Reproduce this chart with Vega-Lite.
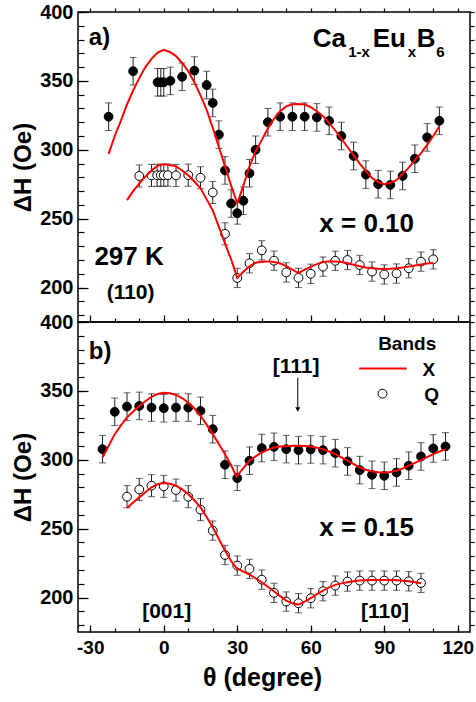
{
"$schema": "https://vega.github.io/schema/vega-lite/v6.json",
"padding": {"left": 10, "top": 1, "right": 2, "bottom": 5},
"bounds": "flush",
"spacing": 0,
"config": {
  "font": "Liberation Sans",
  "view": {"stroke": "black", "strokeWidth": 1.5},
  "axis": {"grid": false, "domain": false, "labelFont": "Liberation Sans", "labelFontWeight": "bold", "labelColor": "black", "tickColor": "black", "tickWidth": 1.2, "titleColor": "black", "titleFont": "Liberation Sans", "titleFontWeight": "bold", "labelFlush": false, "labelOverlap": false, "labelBound": false},
  "text": {"font": "Liberation Sans", "fontWeight": "bold", "color": "black"}
},
"datasets": {
  "pts": [
    {"p":"a","band":"X","theta":-22.5,"dH":324,"err":10},{"p":"a","band":"X","theta":-12.5,"dH":357,"err":10},{"p":"a","band":"X","theta":-2.5,"dH":349,"err":10},{"p":"a","band":"X","theta":-1.2,"dH":349,"err":10},{"p":"a","band":"X","theta":0,"dH":349,"err":10},{"p":"a","band":"X","theta":2.7,"dH":350,"err":10},{"p":"a","band":"X","theta":7.5,"dH":353,"err":10},{"p":"a","band":"X","theta":12.5,"dH":357.5,"err":10},{"p":"a","band":"X","theta":17.5,"dH":347,"err":10},{"p":"a","band":"X","theta":20,"dH":334,"err":10},{"p":"a","band":"X","theta":22.5,"dH":311,"err":10},{"p":"a","band":"X","theta":25,"dH":285,"err":10},{"p":"a","band":"X","theta":27.5,"dH":261,"err":10},{"p":"a","band":"X","theta":30,"dH":254,"err":8},{"p":"a","band":"X","theta":32.5,"dH":263,"err":10},{"p":"a","band":"X","theta":35,"dH":283,"err":10},{"p":"a","band":"X","theta":37.5,"dH":300,"err":10},{"p":"a","band":"X","theta":42.5,"dH":320,"err":10},{"p":"a","band":"X","theta":47.5,"dH":324,"err":10},{"p":"a","band":"X","theta":52.5,"dH":324,"err":10},{"p":"a","band":"X","theta":57.5,"dH":324,"err":10},{"p":"a","band":"X","theta":62.5,"dH":323.5,"err":10},{"p":"a","band":"X","theta":67.5,"dH":321,"err":10},{"p":"a","band":"X","theta":72.5,"dH":310,"err":10},{"p":"a","band":"X","theta":77.5,"dH":295.5,"err":10},{"p":"a","band":"X","theta":82.5,"dH":282,"err":10},{"p":"a","band":"X","theta":87.5,"dH":275,"err":10},{"p":"a","band":"X","theta":92.5,"dH":274.5,"err":10},{"p":"a","band":"X","theta":97.5,"dH":281,"err":10},{"p":"a","band":"X","theta":102.5,"dH":293.5,"err":10},{"p":"a","band":"X","theta":107.5,"dH":309,"err":10},{"p":"a","band":"X","theta":112.5,"dH":321,"err":10},
    {"p":"a","band":"Q","theta":-10,"dH":281,"err":8},{"p":"a","band":"Q","theta":-5,"dH":281.4,"err":8},{"p":"a","band":"Q","theta":-2.7,"dH":281.5,"err":8},{"p":"a","band":"Q","theta":-1.2,"dH":281.5,"err":8},{"p":"a","band":"Q","theta":0,"dH":281.5,"err":8},{"p":"a","band":"Q","theta":1.7,"dH":281.6,"err":8},{"p":"a","band":"Q","theta":5,"dH":281.4,"err":8},{"p":"a","band":"Q","theta":10,"dH":281.6,"err":8},{"p":"a","band":"Q","theta":15,"dH":279.7,"err":8},{"p":"a","band":"Q","theta":20,"dH":269,"err":8},{"p":"a","band":"Q","theta":25,"dH":239,"err":8},{"p":"a","band":"Q","theta":30,"dH":207,"err":7},{"p":"a","band":"Q","theta":35,"dH":217.6,"err":7},{"p":"a","band":"Q","theta":40,"dH":227,"err":7},{"p":"a","band":"Q","theta":45,"dH":219.5,"err":7},{"p":"a","band":"Q","theta":50,"dH":211,"err":7},{"p":"a","band":"Q","theta":55,"dH":207,"err":7},{"p":"a","band":"Q","theta":60,"dH":210,"err":7},{"p":"a","band":"Q","theta":65,"dH":215.2,"err":7},{"p":"a","band":"Q","theta":70,"dH":219.4,"err":7},{"p":"a","band":"Q","theta":75,"dH":220,"err":7},{"p":"a","band":"Q","theta":80,"dH":216.4,"err":7},{"p":"a","band":"Q","theta":85,"dH":211.6,"err":7},{"p":"a","band":"Q","theta":90,"dH":209.5,"err":7},{"p":"a","band":"Q","theta":95,"dH":210.2,"err":7},{"p":"a","band":"Q","theta":100,"dH":214,"err":7},{"p":"a","band":"Q","theta":105,"dH":218.8,"err":7},{"p":"a","band":"Q","theta":110,"dH":220.5,"err":7},
    {"p":"b","band":"X","theta":-25,"dH":307.7,"err":10},{"p":"b","band":"X","theta":-20,"dH":334.8,"err":10},{"p":"b","band":"X","theta":-15,"dH":338.6,"err":10},{"p":"b","band":"X","theta":-10,"dH":339.1,"err":10},{"p":"b","band":"X","theta":-5,"dH":337.9,"err":10},{"p":"b","band":"X","theta":0,"dH":337.4,"err":10},{"p":"b","band":"X","theta":5,"dH":337.9,"err":10},{"p":"b","band":"X","theta":10,"dH":337.9,"err":10},{"p":"b","band":"X","theta":15,"dH":335.5,"err":10},{"p":"b","band":"X","theta":20,"dH":322.2,"err":10},{"p":"b","band":"X","theta":25,"dH":296.4,"err":10},{"p":"b","band":"X","theta":30,"dH":286.7,"err":9},{"p":"b","band":"X","theta":35,"dH":299.3,"err":10},{"p":"b","band":"X","theta":40,"dH":308.5,"err":10},{"p":"b","band":"X","theta":45,"dH":309.4,"err":10},{"p":"b","band":"X","theta":50,"dH":307.7,"err":10},{"p":"b","band":"X","theta":55,"dH":307,"err":10},{"p":"b","band":"X","theta":60,"dH":307.5,"err":10},{"p":"b","band":"X","theta":65,"dH":307,"err":10},{"p":"b","band":"X","theta":70,"dH":304.8,"err":10},{"p":"b","band":"X","theta":75,"dH":298.8,"err":10},{"p":"b","band":"X","theta":80,"dH":292.5,"err":10},{"p":"b","band":"X","theta":85,"dH":289.1,"err":10},{"p":"b","band":"X","theta":90,"dH":288.4,"err":10},{"p":"b","band":"X","theta":95,"dH":290.8,"err":10},{"p":"b","band":"X","theta":100,"dH":295.7,"err":10},{"p":"b","band":"X","theta":105,"dH":302.4,"err":10},{"p":"b","band":"X","theta":110,"dH":308.2,"err":10},{"p":"b","band":"X","theta":115,"dH":309.7,"err":10},
    {"p":"b","band":"Q","theta":-15,"dH":273.2,"err":8},{"p":"b","band":"Q","theta":-10,"dH":278.5,"err":8},{"p":"b","band":"Q","theta":-5,"dH":281.2,"err":8},{"p":"b","band":"Q","theta":0,"dH":280.7,"err":8},{"p":"b","band":"Q","theta":5,"dH":278,"err":8},{"p":"b","band":"Q","theta":10,"dH":273.2,"err":8},{"p":"b","band":"Q","theta":15,"dH":263.8,"err":8},{"p":"b","band":"Q","theta":20,"dH":248.6,"err":7},{"p":"b","band":"Q","theta":25,"dH":230.9,"err":7},{"p":"b","band":"Q","theta":30,"dH":223.2,"err":7},{"p":"b","band":"Q","theta":35,"dH":220.8,"err":7},{"p":"b","band":"Q","theta":40,"dH":213,"err":7},{"p":"b","band":"Q","theta":45,"dH":203.4,"err":7},{"p":"b","band":"Q","theta":50,"dH":197.1,"err":7},{"p":"b","band":"Q","theta":55,"dH":195.9,"err":7},{"p":"b","band":"Q","theta":60,"dH":199.5,"err":7},{"p":"b","band":"Q","theta":65,"dH":204.6,"err":7},{"p":"b","band":"Q","theta":70,"dH":208.7,"err":7},{"p":"b","band":"Q","theta":75,"dH":211.6,"err":7},{"p":"b","band":"Q","theta":80,"dH":212.3,"err":7},{"p":"b","band":"Q","theta":85,"dH":212.3,"err":7},{"p":"b","band":"Q","theta":90,"dH":212.3,"err":7},{"p":"b","band":"Q","theta":95,"dH":212.3,"err":7},{"p":"b","band":"Q","theta":100,"dH":211.8,"err":7},{"p":"b","band":"Q","theta":105,"dH":210.6,"err":7}
  ],
  "fits": [
    {"p":"a","band":"X","theta":-22.5,"dH":297},{"p":"a","band":"X","theta":-20,"dH":310},{"p":"a","band":"X","theta":-17.5,"dH":321},{"p":"a","band":"X","theta":-15,"dH":333},{"p":"a","band":"X","theta":-12.5,"dH":343},{"p":"a","band":"X","theta":-10,"dH":352},{"p":"a","band":"X","theta":-7.5,"dH":360},{"p":"a","band":"X","theta":-5,"dH":366},{"p":"a","band":"X","theta":-2.5,"dH":370.5},{"p":"a","band":"X","theta":0,"dH":372.5},{"p":"a","band":"X","theta":2.5,"dH":371},{"p":"a","band":"X","theta":5,"dH":368},{"p":"a","band":"X","theta":7.5,"dH":363},{"p":"a","band":"X","theta":10,"dH":357},{"p":"a","band":"X","theta":12.5,"dH":349},{"p":"a","band":"X","theta":15,"dH":339.5},{"p":"a","band":"X","theta":17.5,"dH":329},{"p":"a","band":"X","theta":20,"dH":316},{"p":"a","band":"X","theta":22.5,"dH":302},{"p":"a","band":"X","theta":25,"dH":288},{"p":"a","band":"X","theta":27.5,"dH":274},{"p":"a","band":"X","theta":30,"dH":261},{"p":"a","band":"X","theta":32.5,"dH":274},{"p":"a","band":"X","theta":35,"dH":288},{"p":"a","band":"X","theta":37.5,"dH":299},{"p":"a","band":"X","theta":40,"dH":307},{"p":"a","band":"X","theta":42.5,"dH":315.5},{"p":"a","band":"X","theta":45,"dH":322.5},{"p":"a","band":"X","theta":47.5,"dH":328},{"p":"a","band":"X","theta":50,"dH":331.5},{"p":"a","band":"X","theta":52.5,"dH":333},{"p":"a","band":"X","theta":55,"dH":333.2},{"p":"a","band":"X","theta":57.5,"dH":332.8},{"p":"a","band":"X","theta":60,"dH":331},{"p":"a","band":"X","theta":62.5,"dH":328},{"p":"a","band":"X","theta":65,"dH":324.5},{"p":"a","band":"X","theta":67.5,"dH":319.5},{"p":"a","band":"X","theta":70,"dH":314},{"p":"a","band":"X","theta":72.5,"dH":308},{"p":"a","band":"X","theta":75,"dH":302},{"p":"a","band":"X","theta":77.5,"dH":296},{"p":"a","band":"X","theta":80,"dH":290},{"p":"a","band":"X","theta":82.5,"dH":284.5},{"p":"a","band":"X","theta":85,"dH":279.5},{"p":"a","band":"X","theta":87.5,"dH":276.5},{"p":"a","band":"X","theta":90,"dH":275},{"p":"a","band":"X","theta":92.5,"dH":276},{"p":"a","band":"X","theta":95,"dH":278},{"p":"a","band":"X","theta":97.5,"dH":282.5},{"p":"a","band":"X","theta":100,"dH":287},{"p":"a","band":"X","theta":102.5,"dH":292.5},{"p":"a","band":"X","theta":105,"dH":297.5},{"p":"a","band":"X","theta":107.5,"dH":303.5},{"p":"a","band":"X","theta":110,"dH":310},{"p":"a","band":"X","theta":112.5,"dH":317},
    {"p":"a","band":"Q","theta":-15,"dH":263.5},{"p":"a","band":"Q","theta":-12.5,"dH":270},{"p":"a","band":"Q","theta":-10,"dH":275.5},{"p":"a","band":"Q","theta":-7.5,"dH":280.5},{"p":"a","band":"Q","theta":-5,"dH":285},{"p":"a","band":"Q","theta":-2.5,"dH":288.5},{"p":"a","band":"Q","theta":0,"dH":289.5},{"p":"a","band":"Q","theta":2.5,"dH":289},{"p":"a","band":"Q","theta":5,"dH":288},{"p":"a","band":"Q","theta":7.5,"dH":285},{"p":"a","band":"Q","theta":10,"dH":281.5},{"p":"a","band":"Q","theta":12.5,"dH":277},{"p":"a","band":"Q","theta":15,"dH":272},{"p":"a","band":"Q","theta":17.5,"dH":264},{"p":"a","band":"Q","theta":20,"dH":256},{"p":"a","band":"Q","theta":22.5,"dH":244},{"p":"a","band":"Q","theta":25,"dH":232},{"p":"a","band":"Q","theta":27.5,"dH":220.5},{"p":"a","band":"Q","theta":30,"dH":207},{"p":"a","band":"Q","theta":32.5,"dH":211.5},{"p":"a","band":"Q","theta":35,"dH":215.5},{"p":"a","band":"Q","theta":37.5,"dH":218},{"p":"a","band":"Q","theta":40,"dH":218.8},{"p":"a","band":"Q","theta":42.5,"dH":219},{"p":"a","band":"Q","theta":45,"dH":218.5},{"p":"a","band":"Q","theta":47.5,"dH":217.5},{"p":"a","band":"Q","theta":50,"dH":215.5},{"p":"a","band":"Q","theta":52.5,"dH":213},{"p":"a","band":"Q","theta":55,"dH":210.5},{"p":"a","band":"Q","theta":57.5,"dH":213},{"p":"a","band":"Q","theta":60,"dH":215},{"p":"a","band":"Q","theta":62.5,"dH":217},{"p":"a","band":"Q","theta":65,"dH":218.5},{"p":"a","band":"Q","theta":67.5,"dH":219},{"p":"a","band":"Q","theta":70,"dH":219},{"p":"a","band":"Q","theta":72.5,"dH":218.5},{"p":"a","band":"Q","theta":75,"dH":217.6},{"p":"a","band":"Q","theta":77.5,"dH":216.5},{"p":"a","band":"Q","theta":80,"dH":215.5},{"p":"a","band":"Q","theta":82.5,"dH":214.5},{"p":"a","band":"Q","theta":85,"dH":214},{"p":"a","band":"Q","theta":87.5,"dH":213.6},{"p":"a","band":"Q","theta":90,"dH":213.5},{"p":"a","band":"Q","theta":92.5,"dH":213.6},{"p":"a","band":"Q","theta":95,"dH":214},{"p":"a","band":"Q","theta":97.5,"dH":214.5},{"p":"a","band":"Q","theta":100,"dH":215.2},{"p":"a","band":"Q","theta":102.5,"dH":216},{"p":"a","band":"Q","theta":105,"dH":216.8},{"p":"a","band":"Q","theta":107.5,"dH":217.4},{"p":"a","band":"Q","theta":110,"dH":217.8},
    {"p":"b","band":"X","theta":-25,"dH":301.7},{"p":"b","band":"X","theta":-22.5,"dH":310},{"p":"b","band":"X","theta":-20,"dH":318.6},{"p":"b","band":"X","theta":-17.5,"dH":325},{"p":"b","band":"X","theta":-15,"dH":330.7},{"p":"b","band":"X","theta":-12.5,"dH":335},{"p":"b","band":"X","theta":-10,"dH":339.1},{"p":"b","band":"X","theta":-7.5,"dH":342.5},{"p":"b","band":"X","theta":-5,"dH":345.7},{"p":"b","band":"X","theta":-2.5,"dH":347.8},{"p":"b","band":"X","theta":0,"dH":348.6},{"p":"b","band":"X","theta":2.5,"dH":348.3},{"p":"b","band":"X","theta":5,"dH":347.1},{"p":"b","band":"X","theta":7.5,"dH":344.8},{"p":"b","band":"X","theta":10,"dH":341.5},{"p":"b","band":"X","theta":12.5,"dH":337.2},{"p":"b","band":"X","theta":15,"dH":331.9},{"p":"b","band":"X","theta":17.5,"dH":325.5},{"p":"b","band":"X","theta":20,"dH":318.6},{"p":"b","band":"X","theta":22.5,"dH":311.5},{"p":"b","band":"X","theta":25,"dH":304.1},{"p":"b","band":"X","theta":27.5,"dH":296},{"p":"b","band":"X","theta":29.7,"dH":287.7},{"p":"b","band":"X","theta":32.5,"dH":294},{"p":"b","band":"X","theta":35,"dH":299.3},{"p":"b","band":"X","theta":37.5,"dH":302.5},{"p":"b","band":"X","theta":40,"dH":305.3},{"p":"b","band":"X","theta":42.5,"dH":307.3},{"p":"b","band":"X","theta":45,"dH":308.9},{"p":"b","band":"X","theta":47.5,"dH":309.6},{"p":"b","band":"X","theta":50,"dH":309.9},{"p":"b","band":"X","theta":52.5,"dH":310.1},{"p":"b","band":"X","theta":55,"dH":310.1},{"p":"b","band":"X","theta":57.5,"dH":310},{"p":"b","band":"X","theta":60,"dH":309.7},{"p":"b","band":"X","theta":62.5,"dH":308.8},{"p":"b","band":"X","theta":65,"dH":307.7},{"p":"b","band":"X","theta":67.5,"dH":306},{"p":"b","band":"X","theta":70,"dH":304.1},{"p":"b","band":"X","theta":72.5,"dH":301.7},{"p":"b","band":"X","theta":75,"dH":299.3},{"p":"b","band":"X","theta":77.5,"dH":296.8},{"p":"b","band":"X","theta":80,"dH":294.4},{"p":"b","band":"X","theta":82.5,"dH":292.7},{"p":"b","band":"X","theta":85,"dH":291.5},{"p":"b","band":"X","theta":87.5,"dH":290.9},{"p":"b","band":"X","theta":90,"dH":290.8},{"p":"b","band":"X","theta":92.5,"dH":291.2},{"p":"b","band":"X","theta":95,"dH":292},{"p":"b","band":"X","theta":97.5,"dH":293.7},{"p":"b","band":"X","theta":100,"dH":295.7},{"p":"b","band":"X","theta":102.5,"dH":297.7},{"p":"b","band":"X","theta":105,"dH":299.8},{"p":"b","band":"X","theta":107.5,"dH":302},{"p":"b","band":"X","theta":110,"dH":304.1},{"p":"b","band":"X","theta":112.5,"dH":306},{"p":"b","band":"X","theta":115,"dH":307.7},
    {"p":"b","band":"Q","theta":-15,"dH":265},{"p":"b","band":"Q","theta":-12.5,"dH":269},{"p":"b","band":"Q","theta":-10,"dH":272.7},{"p":"b","band":"Q","theta":-7.5,"dH":276.5},{"p":"b","band":"Q","theta":-5,"dH":280},{"p":"b","band":"Q","theta":-2.5,"dH":282.3},{"p":"b","band":"Q","theta":0,"dH":283.1},{"p":"b","band":"Q","theta":2.5,"dH":282.6},{"p":"b","band":"Q","theta":5,"dH":281.2},{"p":"b","band":"Q","theta":7.5,"dH":278.5},{"p":"b","band":"Q","theta":10,"dH":275.1},{"p":"b","band":"Q","theta":12.5,"dH":270.6},{"p":"b","band":"Q","theta":15,"dH":265.5},{"p":"b","band":"Q","theta":17.5,"dH":258.5},{"p":"b","band":"Q","theta":20,"dH":251},{"p":"b","band":"Q","theta":22.5,"dH":242.5},{"p":"b","band":"Q","theta":25,"dH":234.1},{"p":"b","band":"Q","theta":27.5,"dH":226.5},{"p":"b","band":"Q","theta":29.7,"dH":221.5},{"p":"b","band":"Q","theta":32.5,"dH":218.8},{"p":"b","band":"Q","theta":35,"dH":216.7},{"p":"b","band":"Q","theta":37.5,"dH":214},{"p":"b","band":"Q","theta":40,"dH":211.1},{"p":"b","band":"Q","theta":42.5,"dH":207.8},{"p":"b","band":"Q","theta":45,"dH":204.6},{"p":"b","band":"Q","theta":47.5,"dH":201},{"p":"b","band":"Q","theta":50,"dH":197.8},{"p":"b","band":"Q","theta":52.5,"dH":195.8},{"p":"b","band":"Q","theta":55,"dH":194.9},{"p":"b","band":"Q","theta":57.5,"dH":197},{"p":"b","band":"Q","theta":60,"dH":199.5},{"p":"b","band":"Q","theta":62.5,"dH":202.5},{"p":"b","band":"Q","theta":65,"dH":205.1},{"p":"b","band":"Q","theta":67.5,"dH":207.4},{"p":"b","band":"Q","theta":70,"dH":209.2},{"p":"b","band":"Q","theta":72.5,"dH":210.3},{"p":"b","band":"Q","theta":75,"dH":211.1},{"p":"b","band":"Q","theta":77.5,"dH":211.8},{"p":"b","band":"Q","theta":80,"dH":212.3},{"p":"b","band":"Q","theta":82.5,"dH":212.6},{"p":"b","band":"Q","theta":85,"dH":212.8},{"p":"b","band":"Q","theta":87.5,"dH":212.8},{"p":"b","band":"Q","theta":90,"dH":212.8},{"p":"b","band":"Q","theta":92.5,"dH":212.7},{"p":"b","band":"Q","theta":95,"dH":212.5},{"p":"b","band":"Q","theta":97.5,"dH":212.2},{"p":"b","band":"Q","theta":100,"dH":211.8},{"p":"b","band":"Q","theta":102.5,"dH":211.1},{"p":"b","band":"Q","theta":105,"dH":210.4}
  ]
},
"vconcat": [
  {
    "width": 392, "height": 310,
    "resolve": {"axis": {"x": "independent", "y": "independent"}},
    "layer": [
      {"data": {"name": "pts"}, "transform": [{"filter": "datum.p === 'a'"}],
       "mark": {"type": "errorbar", "ticks": {"size": 7, "color": "#222", "strokeWidth": 1}, "rule": {"color": "#222", "strokeWidth": 1}},
       "encoding": {
         "x": {"field": "theta", "type": "quantitative", "axis": null, "scale": {"domain": [-35, 125], "nice": false, "zero": false}},
         "y": {"field": "dH", "type": "quantitative", "scale": {"domain": [175, 400], "nice": false, "zero": false}, "axis": {"orient": "right", "values": [180,190,200,210,220,230,240,250,260,270,280,290,300,310,320,330,340,350,360,370,380,390,400], "labels": false, "tickSize": 4, "title": null}},
         "yError": {"field": "err"}
       }},
      {"data": {"name": "pts"}, "transform": [{"filter": "datum.p === 'a'"}],
       "mark": {"type": "circle", "size": 78, "stroke": "black", "strokeWidth": 1, "opacity": 1},
       "encoding": {
         "x": {"field": "theta", "type": "quantitative", "scale": {"domain": [-35, 125], "nice": false, "zero": false}, "axis": {"orient": "bottom", "values": [-30,-20,-10,0,10,20,30,40,50,60,70,80,90,100,110,120], "labels": false, "tickSize": -4, "title": null}},
         "y": {"field": "dH", "type": "quantitative", "scale": {"domain": [175, 400], "nice": false, "zero": false}, "axis": {"orient": "right", "offset": -392, "values": [180,190,200,210,220,230,240,250,260,270,280,290,300,310,320,330,340,350,360,370,380,390,400], "labels": false, "tickSize": 6, "title": null}},
         "fill": {"condition": {"test": "datum.band === 'X'", "value": "black"}, "value": "white"}
       }},
      {"data": {"name": "fits"}, "transform": [{"filter": "datum.p === 'a'"}],
       "mark": {"type": "line", "color": "#ff0000", "strokeWidth": 2},
       "encoding": {
         "x": {"field": "theta", "type": "quantitative", "scale": {"domain": [-35, 125], "nice": false, "zero": false}, "axis": {"orient": "bottom", "values": [-30,0,30,60,90,120], "labels": false, "tickSize": -7, "title": null}},
         "y": {"field": "dH", "type": "quantitative", "scale": {"domain": [175, 400], "nice": false, "zero": false}, "axis": {"orient": "left", "values": [200,250,300,350,400], "labelFontSize": 20, "labelPadding": 5, "ticks": false, "title": "ΔH (Oe)", "titleFontSize": 24, "titlePadding": 4}},
         "detail": {"field": "band"}
       }},
      {"data": {"values": [{}]}, "mark": {"type": "text", "text": "a)", "align": "left", "baseline": "alphabetic", "fontSize": 24},
       "encoding": {"x": {"datum": -30.6, "type": "quantitative", "axis": {"orient": "top", "values": [-30,-20,-10,0,10,20,30,40,50,60,70,80,90,100,110,120], "labels": false, "tickSize": 4, "title": null}}, "y": {"datum": 376, "type": "quantitative", "axis": {"orient": "right", "offset": -392, "values": [200,250,300,350,400], "labels": false, "tickSize": 10, "title": null}}}},
      {"data": {"values": [{}]}, "mark": {"type": "text", "text": "Ca", "align": "left", "baseline": "alphabetic", "fontSize": 26},
       "encoding": {"x": {"datum": 60.8, "type": "quantitative", "axis": null}, "y": {"datum": 374.6, "type": "quantitative", "axis": null}}},
      {"data": {"values": [{}]}, "mark": {"type": "text", "text": "1-x", "align": "left", "baseline": "alphabetic", "fontSize": 15},
       "encoding": {"x": {"datum": 75.3, "type": "quantitative", "axis": null}, "y": {"datum": 367.4, "type": "quantitative", "axis": null}}},
      {"data": {"values": [{}]}, "mark": {"type": "text", "text": "Eu", "align": "left", "baseline": "alphabetic", "fontSize": 26},
       "encoding": {"x": {"datum": 85.3, "type": "quantitative", "axis": null}, "y": {"datum": 374.6, "type": "quantitative", "axis": null}}},
      {"data": {"values": [{}]}, "mark": {"type": "text", "text": "x", "align": "left", "baseline": "alphabetic", "fontSize": 15},
       "encoding": {"x": {"datum": 99.6, "type": "quantitative", "axis": null}, "y": {"datum": 367.4, "type": "quantitative", "axis": null}}},
      {"data": {"values": [{}]}, "mark": {"type": "text", "text": "B", "align": "left", "baseline": "alphabetic", "fontSize": 26},
       "encoding": {"x": {"datum": 103.3, "type": "quantitative", "axis": null}, "y": {"datum": 374.6, "type": "quantitative", "axis": null}}},
      {"data": {"values": [{}]}, "mark": {"type": "text", "text": "6", "align": "left", "baseline": "alphabetic", "fontSize": 15},
       "encoding": {"x": {"datum": 111.2, "type": "quantitative", "axis": null}, "y": {"datum": 367.4, "type": "quantitative", "axis": null}}},
      {"data": {"values": [{}]}, "mark": {"type": "text", "text": "x = 0.10", "align": "left", "baseline": "alphabetic", "fontSize": 26},
       "encoding": {"x": {"datum": 63.5, "type": "quantitative", "axis": null}, "y": {"datum": 240.6, "type": "quantitative", "axis": null}}},
      {"data": {"values": [{}]}, "mark": {"type": "text", "text": "297 K", "align": "left", "baseline": "alphabetic", "fontSize": 26},
       "encoding": {"x": {"datum": -28.3, "type": "quantitative", "axis": null}, "y": {"datum": 216.4, "type": "quantitative", "axis": null}}},
      {"data": {"values": [{}]}, "mark": {"type": "text", "text": "(110)", "align": "left", "baseline": "alphabetic", "fontSize": 21},
       "encoding": {"x": {"datum": -23.3, "type": "quantitative", "axis": null}, "y": {"datum": 191.6, "type": "quantitative", "axis": null}}}
    ]
  },
  {
    "width": 392, "height": 310,
    "resolve": {"axis": {"x": "independent", "y": "independent"}},
    "layer": [
      {"data": {"name": "pts"}, "transform": [{"filter": "datum.p === 'b'"}],
       "mark": {"type": "errorbar", "ticks": {"size": 7, "color": "#222", "strokeWidth": 1}, "rule": {"color": "#222", "strokeWidth": 1}},
       "encoding": {
         "x": {"field": "theta", "type": "quantitative", "axis": null, "scale": {"domain": [-35, 125], "nice": false, "zero": false}},
         "y": {"field": "dH", "type": "quantitative", "scale": {"domain": [175, 400], "nice": false, "zero": false}, "axis": {"orient": "right", "values": [180,190,200,210,220,230,240,250,260,270,280,290,300,310,320,330,340,350,360,370,380,390,400], "labels": false, "tickSize": 4, "title": null}},
         "yError": {"field": "err"}
       }},
      {"data": {"name": "pts"}, "transform": [{"filter": "datum.p === 'b'"}],
       "mark": {"type": "circle", "size": 78, "stroke": "black", "strokeWidth": 1, "opacity": 1},
       "encoding": {
         "x": {"field": "theta", "type": "quantitative", "scale": {"domain": [-35, 125], "nice": false, "zero": false}, "axis": {"orient": "bottom", "values": [-30,-20,-10,0,10,20,30,40,50,60,70,80,90,100,110,120], "labels": false, "tickSize": -4, "title": null}},
         "y": {"field": "dH", "type": "quantitative", "scale": {"domain": [175, 400], "nice": false, "zero": false}, "axis": {"orient": "right", "offset": -392, "values": [180,190,200,210,220,230,240,250,260,270,280,290,300,310,320,330,340,350,360,370,380,390,400], "labels": false, "tickSize": 6, "title": null}},
         "fill": {"condition": {"test": "datum.band === 'X'", "value": "black"}, "value": "white"}
       }},
      {"data": {"name": "fits"}, "transform": [{"filter": "datum.p === 'b'"}],
       "mark": {"type": "line", "color": "#ff0000", "strokeWidth": 2},
       "encoding": {
         "x": {"field": "theta", "type": "quantitative", "scale": {"domain": [-35, 125], "nice": false, "zero": false}, "axis": {"orient": "bottom", "values": [-30,0,30,60,90,120], "labelExpr": "'' + datum.value", "labelFontSize": 19, "labelPadding": 13, "tickSize": -7, "title": "θ (degree)", "titleFontSize": 25, "titlePadding": 8, "titleX": 184, "titleAlign": "center"}},
         "y": {"field": "dH", "type": "quantitative", "scale": {"domain": [175, 400], "nice": false, "zero": false}, "axis": {"orient": "left", "values": [200,250,300,350,400], "labelFontSize": 20, "labelPadding": 5, "ticks": false, "title": "ΔH (Oe)", "titleFontSize": 24, "titlePadding": 4}},
         "detail": {"field": "band"}
       }},
      {"data": {"values": [{}]}, "mark": {"type": "text", "text": "b)", "align": "left", "baseline": "alphabetic", "fontSize": 24},
       "encoding": {"x": {"datum": -30.6, "type": "quantitative", "axis": null}, "y": {"datum": 372.9, "type": "quantitative", "axis": {"orient": "right", "offset": -392, "values": [200,250,300,350,400], "labels": false, "tickSize": 10, "title": null}}}},
      {"data": {"values": [{}]}, "mark": {"type": "text", "text": "Bands", "align": "left", "baseline": "alphabetic", "fontSize": 19},
       "encoding": {"x": {"datum": 87.5, "type": "quantitative", "axis": null}, "y": {"datum": 379.4, "type": "quantitative", "axis": null}}},
      {"data": {"values": [{}]}, "mark": {"type": "rule", "color": "#ff0000", "strokeWidth": 2},
       "encoding": {"x": {"datum": 79.8, "type": "quantitative", "axis": null}, "x2": {"datum": 99.2}, "y": {"datum": 366.3, "type": "quantitative", "axis": null}}},
      {"data": {"values": [{}]}, "mark": {"type": "text", "text": "X", "align": "left", "baseline": "alphabetic", "fontSize": 19},
       "encoding": {"x": {"datum": 105.6, "type": "quantitative", "axis": null}, "y": {"datum": 360.8, "type": "quantitative", "axis": null}}},
      {"data": {"values": [{}]}, "mark": {"type": "circle", "size": 78, "fill": "white", "stroke": "black", "strokeWidth": 1, "opacity": 1},
       "encoding": {"x": {"datum": 89.3, "type": "quantitative", "axis": null}, "y": {"datum": 348, "type": "quantitative", "axis": null}}},
      {"data": {"values": [{}]}, "mark": {"type": "text", "text": "Q", "align": "left", "baseline": "alphabetic", "fontSize": 19},
       "encoding": {"x": {"datum": 106.3, "type": "quantitative", "axis": null}, "y": {"datum": 342.8, "type": "quantitative", "axis": null}}},
      {"data": {"values": [{}]}, "mark": {"type": "text", "text": "[111]", "align": "center", "baseline": "alphabetic", "fontSize": 21},
       "encoding": {"x": {"datum": 54, "type": "quantitative", "axis": null}, "y": {"datum": 363.2, "type": "quantitative", "axis": null}}},
      {"data": {"values": [{}]}, "mark": {"type": "rule", "color": "black", "strokeWidth": 1},
       "encoding": {"x": {"datum": 54.7, "type": "quantitative", "axis": null}, "y": {"datum": 359.6, "type": "quantitative", "axis": null}, "y2": {"datum": 337}}},
      {"data": {"values": [{}]}, "mark": {"type": "point", "shape": "triangle-down", "size": 25, "filled": true, "color": "black", "opacity": 1},
       "encoding": {"x": {"datum": 54.7, "type": "quantitative", "axis": null}, "y": {"datum": 336.5, "type": "quantitative", "axis": null}}},
      {"data": {"values": [{}]}, "mark": {"type": "text", "text": "x = 0.15", "align": "left", "baseline": "alphabetic", "fontSize": 26},
       "encoding": {"x": {"datum": 63.5, "type": "quantitative", "axis": null}, "y": {"datum": 244.5, "type": "quantitative", "axis": null}}},
      {"data": {"values": [{}]}, "mark": {"type": "text", "text": "[001]", "align": "center", "baseline": "alphabetic", "fontSize": 21},
       "encoding": {"x": {"datum": 1.2, "type": "quantitative", "axis": null}, "y": {"datum": 185.5, "type": "quantitative", "axis": null}}},
      {"data": {"values": [{}]}, "mark": {"type": "text", "text": "[110]", "align": "center", "baseline": "alphabetic", "fontSize": 21},
       "encoding": {"x": {"datum": 90.3, "type": "quantitative", "axis": null}, "y": {"datum": 185.5, "type": "quantitative", "axis": null}}}
    ]
  }
]
}
